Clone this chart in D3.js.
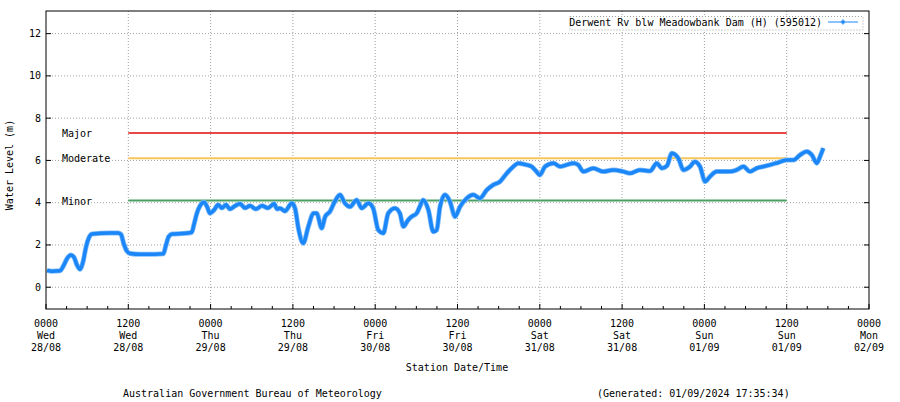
<!DOCTYPE html>
<html>
<head>
<meta charset="utf-8">
<script src="https://cdn.jsdelivr.net/npm/d3@7"></script>
<style>
  body { margin: 0; background: #fff; }
  text { font-family: "DejaVu Sans Mono", monospace; font-size: 10px; fill: #000; }
</style>
</head>
<body>
<div id="chart"></div>
<script>
// hours since 0000 Wed 28/08 and water level (m)
const hours = [0.15,0.87,2.04,2.6,3.06,3.6,4.08,4.52,4.96,5.4,5.83,6.27,6.7,7.87,9.33,10.5,10.94,11.3,11.77,12.25,13.7,15.9,17.1,17.5,17.9,18.4,20.3,21.25,
  21.6,22.0,22.46,23.04,23.5,23.9,24.5,25.1,25.66,26.25,26.8,27.56,28.3,29.0,29.75,30.6,31.5,32.37,33.25,33.7,34.1,34.85,35.83,36.3,36.8,37.5,
  38.25,39.0,39.47,40.2,40.7,41.4,42.1,42.87,43.6,44.33,45.3,46.03,47.0,47.7,48.45,49.18,49.9,50.9,51.6,52.1,52.8,53.3,54.05,54.5,55.0,55.75,
  56.47,56.97,57.45,58.18,58.9,59.64,60.37,61.35,62.3,63.28,64.26,65.2,66.2,67.18,68.14,68.87,70.1,70.8,71.45,72.0,72.76,74.0,74.95,75.9,
  76.9,77.6,78.35,79.8,81.26,82.7,84.2,85.15,86.6,88.1,89.05,89.8,90.55,91.24,92.2,92.94,93.9,94.6,95.36,96.1,96.8,97.8,98.76,99.74,100.7,
  101.7,102.65,103.6,104.6,105.57,106.5,108.0,108.97,109.95,110.9,111.66,112.4,112.86,113.34];
const levels = [0.80,0.76,0.78,1.05,1.35,1.53,1.42,1.05,0.85,1.2,1.9,2.35,2.52,2.55,2.57,2.57,2.5,2.1,1.72,1.6,1.56,1.56,1.58,2.0,2.4,2.52,2.55,2.6,
  3.0,3.5,3.85,4.02,3.8,3.5,3.65,3.9,3.75,3.9,3.7,3.85,3.95,3.75,3.85,3.7,3.85,3.75,3.95,3.7,3.74,3.6,3.97,3.75,2.79,2.08,
  2.87,3.5,3.5,2.79,3.34,3.58,4.05,4.37,3.97,3.81,4.13,3.74,3.97,3.74,2.71,2.56,3.5,3.74,3.5,2.87,3.18,3.34,3.5,3.81,4.13,3.66,
  2.63,2.71,3.81,4.37,4.05,3.34,3.81,4.21,4.37,4.21,4.6,4.84,5.0,5.39,5.71,5.87,5.79,5.71,5.5,5.31,5.71,5.87,5.71,5.79,
  5.87,5.79,5.47,5.63,5.47,5.55,5.47,5.39,5.55,5.5,5.87,5.63,5.75,6.34,6.1,5.55,5.71,5.94,5.71,5.0,5.23,5.47,5.47,5.47,5.55,
  5.71,5.47,5.63,5.71,5.79,5.87,6.02,6.02,6.26,6.42,6.26,5.87,6.18,6.58];

const floodNames = ["Major", "Moderate", "Minor"];
const floodLevels = [7.3, 6.1, 4.1];
const floodColors = ["#e84848", "#f6c65b", "#4a9f62"];
const floodSpan = [12, 108]; // hours

const yTicks = [0, 2, 4, 6, 8, 10, 12];
const xTickHours = [0, 12, 24, 36, 48, 60, 72, 84, 96, 108, 120];
const xTickTimes = ["0000","1200","0000","1200","0000","1200","0000","1200","0000","1200","0000"];
const xTickDays = ["Wed","Wed","Thu","Thu","Fri","Fri","Sat","Sat","Sun","Sun","Mon"];
const xTickDates = ["28/08","28/08","29/08","29/08","30/08","30/08","31/08","31/08","01/09","01/09","02/09"];

const seriesName = "Derwent Rv blw Meadowbank Dam (H) (595012)";

const W = 900, H = 402;
const plotL = 46, plotR = 869, plotT = 11, plotB = 309;

const svg = d3.select("#chart").append("svg")
    .attr("width", W)
    .attr("height", H);

const x = d3.scaleLinear().domain([0, 120]).range([plotL, plotR]);
const y = d3.scaleLinear().domain([-1.03, 13.07]).range([plotB, plotT]);

// grid
svg.append("g").selectAll("line").data(yTicks).join("line")
    .attr("x1", plotL).attr("x2", plotR)
    .attr("y1", d => y(d)).attr("y2", d => y(d))
    .attr("stroke", "#a0a0a0").attr("stroke-dasharray", "1,2");
svg.append("g").selectAll("line").data(xTickHours.slice(1, -1)).join("line")
    .attr("x1", d => x(d)).attr("x2", d => x(d))
    .attr("y1", plotT).attr("y2", plotB)
    .attr("stroke", "#a0a0a0").attr("stroke-dasharray", "1,2");

// tick marks
const yt = svg.append("g");
yTicks.forEach(d => {
    yt.append("line").attr("x1", plotL).attr("x2", plotL + 5).attr("y1", y(d)).attr("y2", y(d)).attr("stroke", "#000");
    yt.append("line").attr("x1", plotR - 5).attr("x2", plotR).attr("y1", y(d)).attr("y2", y(d)).attr("stroke", "#000");
});
const minorHours = d3.range(0, 121, 3);
svg.append("g").selectAll("line").data(minorHours).join("line")
    .attr("x1", d => x(d)).attr("x2", d => x(d))
    .attr("y1", plotB).attr("y2", d => d % 12 === 0 ? plotB - 5 : plotB - 3)
    .attr("stroke", "#000");

// tick labels
svg.append("g").selectAll("text").data(yTicks).join("text")
    .attr("x", 41).attr("y", d => y(d) + 3.5)
    .attr("text-anchor", "end")
    .text(d => d);

const xl = svg.append("g").selectAll("g").data(xTickHours).join("g")
    .attr("transform", d => `translate(${x(d)},0)`);
xl.append("text").attr("y", 326.5).attr("text-anchor", "middle").text((d, i) => xTickTimes[i]);
xl.append("text").attr("y", 338.5).attr("text-anchor", "middle").text((d, i) => xTickDays[i]);
xl.append("text").attr("y", 351).attr("text-anchor", "middle").text((d, i) => xTickDates[i]);

// flood levels
floodLevels.forEach((lv, i) => {
    svg.append("line")
        .attr("x1", x(floodSpan[0])).attr("x2", x(floodSpan[1]))
        .attr("y1", y(lv)).attr("y2", y(lv))
        .attr("stroke", floodColors[i]).attr("stroke-width", 2);
    svg.append("text")
        .attr("x", 62).attr("y", y(lv) + 4)
        .text(floodNames[i]);
});

// series
const data = hours.map((h, i) => ({h: h, v: levels[i]}));
const line = d3.line().x(d => x(d.h)).y(d => y(d.v)).curve(d3.curveMonotoneX);
svg.append("path").datum(data)
    .attr("d", line)
    .attr("fill", "none")
    .attr("stroke", "#82bdf7")
    .attr("stroke-width", 5)
    .attr("stroke-linejoin", "round");
svg.append("path").datum(data)
    .attr("d", line)
    .attr("fill", "none")
    .attr("stroke", "#1a86f8")
    .attr("stroke-width", 3.5)
    .attr("stroke-linejoin", "round");

// legend
svg.append("rect")
    .attr("x", 570).attr("y", 16.5).attr("width", 293).attr("height", 13.5)
    .attr("fill", "#fff").attr("stroke", "#a0a0a0").attr("stroke-dasharray", "1,2");
svg.append("text").attr("x", 822).attr("y", 25.5).attr("text-anchor", "end").text(seriesName);
svg.append("line").attr("x1", 828).attr("x2", 858).attr("y1", 22).attr("y2", 22)
    .attr("stroke", "#1a86f8").attr("stroke-width", 1);
svg.append("path").attr("d", "M843,19.5L845.5,22L843,24.5L840.5,22Z")
    .attr("fill", "#1a86f8").attr("stroke", "#7dbaf6");

// frame
svg.append("rect")
    .attr("x", plotL).attr("y", plotT)
    .attr("width", plotR - plotL).attr("height", plotB - plotT)
    .attr("fill", "none").attr("stroke", "#000");

// axis titles and footer
svg.append("text")
    .attr("transform", "translate(13,165) rotate(-90)")
    .attr("text-anchor", "middle")
    .text("Water Level (m)");
svg.append("text").attr("x", 457).attr("y", 371).attr("text-anchor", "middle").text("Station Date/Time");
svg.append("text").attr("x", 123).attr("y", 397).text("Australian Government Bureau of Meteorology");
svg.append("text").attr("x", 597).attr("y", 397).text("(Generated: 01/09/2024 17:35:34)");
</script>
</body>
</html>
